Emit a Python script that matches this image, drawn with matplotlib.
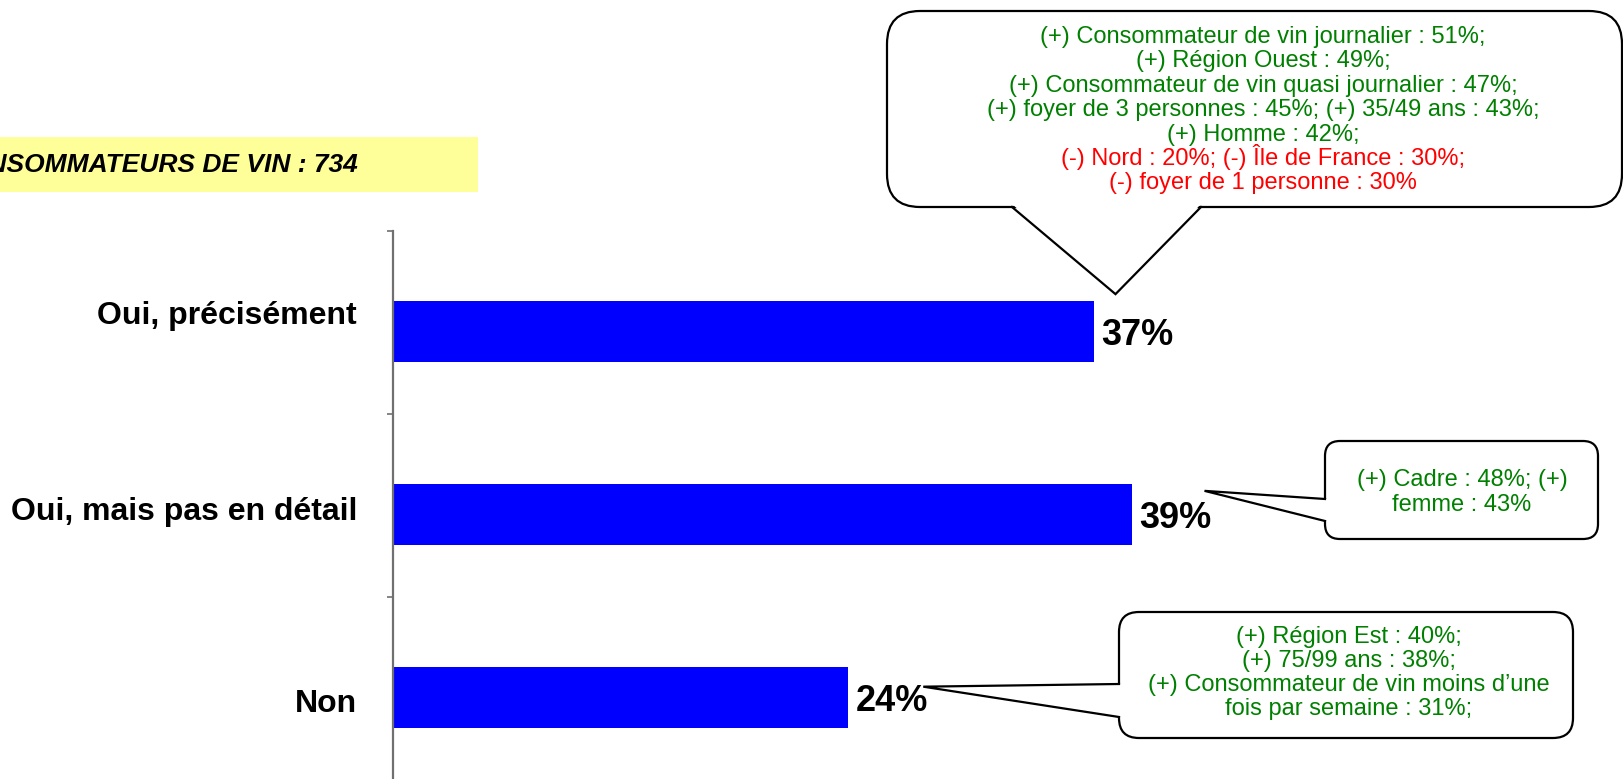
import matplotlib
matplotlib.use("Agg")
import matplotlib.pyplot as plt
from matplotlib.patches import FancyBboxPatch, Polygon, Rectangle
from matplotlib.lines import Line2D

plt.rcParams['font.family'] = ['Liberation Sans', 'DejaVu Sans']

# ---------------- data ----------------
categories = ["Oui, précisément", "Oui, mais pas en détail", "Non"]
values = [37, 39, 24]
value_labels = ["37%", "39%", "24%"]
title_text = "CONSOMMATEURS DE VIN : 734"

callout1_green = [
    "(+) Consommateur de vin journalier : 51%;",
    "(+) Région Ouest : 49%;",
    "(+) Consommateur de vin quasi journalier : 47%;",
    "(+) foyer de 3 personnes : 45%; (+) 35/49 ans : 43%;",
    "(+) Homme : 42%;",
]
callout1_red = [
    "(-) Nord : 20%; (-) Île de France : 30%;",
    "(-) foyer de 1 personne : 30%",
]
callout2_green = ["(+) Cadre : 48%; (+)", "femme : 43%"]
callout3_green = [
    "(+) Région Est : 40%;",
    "(+) 75/99 ans : 38%;",
    "(+) Consommateur de vin moins d\u2019une",
    "fois par semaine : 31%;",
]

# ---------------- figure ----------------
W, H = 1624, 779
fig = plt.figure(figsize=(W / 100, H / 100), dpi=100)

ax_left, ax_top = 393, 231
ax = fig.add_axes([ax_left / W, 0, (W - ax_left) / W, (H - ax_top) / H])
band = 183.0
ax.set_ylim(-0.55 + (H - ax_top) / band, -0.55)
ax.set_xlim(0, 65)

ypos = list(range(len(categories)))
ax.barh(ypos, values, height=0.333, color="#0000FF", zorder=2)

for s in ["top", "right", "bottom"]:
    ax.spines[s].set_visible(False)
ax.spines["left"].set_color("#707070")
ax.spines["left"].set_linewidth(1.6)
ax.set_xticks([])
ax.set_yticks([-0.55, 0.45, 1.45])
ax.set_yticklabels([])
ax.tick_params(axis="y", direction="out", length=4, width=1.2, color="#707070")
ax.patch.set_visible(False)

label_offsets = [-0.088, -0.013, 0.032]
ytr = ax.get_yaxis_transform()
for i, (cat, off) in enumerate(zip(categories, label_offsets)):
    ax.text(-36 / (W - ax_left), i + off, cat, transform=ytr, ha="right",
            va="center", fontsize=23, fontweight="bold", color="black")

for i, (v, lab) in enumerate(zip(values, value_labels)):
    ax.text(v + 0.42, i + 0.02, lab, ha="left", va="center", fontsize=26,
            fontweight="bold", color="black")

# ---------------- overlay in pixel coords ----------------
ov = fig.add_axes([0, 0, 1, 1])
ov.set_xlim(0, W)
ov.set_ylim(H, 0)
ov.axis("off")
ov.patch.set_visible(False)

def to_px(x, y):
    disp = ax.transData.transform((x, y))
    return ov.transData.inverted().transform(disp)

# title band
ov.add_patch(Rectangle((0, 137), 478, 55, facecolor="#FFFF99", edgecolor="none"))
ov.text(358, 165, title_text, ha="right", va="center", fontsize=19,
        fontweight="bold", fontstyle="italic", color="black")

GREEN = "#008000"
RED = "#FF0000"
LW = 1.6

def callout(x0, y0, x1, y1, r, base_a, base_b, tip, side):
    box = FancyBboxPatch((x0, y0), x1 - x0, y1 - y0,
                         boxstyle=f"round,pad=0,rounding_size={r}",
                         facecolor="white", edgecolor="black", lw=LW, zorder=3)
    ov.add_patch(box)
    if side == "bottom":
        fa = (base_a, y1 - 3)
        fb = (base_b, y1 - 3)
        la = (base_a, y1)
        lb = (base_b, y1)
    else:  # left
        fa = (x0 + 3, base_a)
        fb = (x0 + 3, base_b)
        la = (x0, base_a)
        lb = (x0, base_b)
    ov.add_patch(Polygon([fa, tuple(tip), fb], closed=True, facecolor="white",
                         edgecolor="none", zorder=4))
    ov.add_line(Line2D([la[0], tip[0], lb[0]], [la[1], tip[1], lb[1]],
                       color="black", lw=LW, zorder=5, solid_joinstyle="miter"))

def lines_text(cx, base0, step, lines, colors, fs=17):
    for k, (t, c) in enumerate(zip(lines, colors)):
        ov.text(cx, base0 + k * step, t, ha="center", va="baseline",
                fontsize=fs, color=c, zorder=6)

# callout 1 (top bar)
tip1 = to_px(values[0] + 1.15, -0.205)
callout(887, 11, 1622, 207, 33, 1012, 1201, tip1, "bottom")
lines_text(1263, 43, 24.4, callout1_green + callout1_red,
           [GREEN] * len(callout1_green) + [RED] * len(callout1_red))

# callout 2 (middle bar)
tip2 = to_px(values[1] + 3.85, 0.87)
callout(1325, 441, 1598, 539, 15, 499, 521, tip2, "left")
lines_text(1462, 485.5, 25, callout2_green, [GREEN] * len(callout2_green))

# callout 3 (bottom bar)
tip3 = to_px(values[2] + 4.0, 1.94)
callout(1119, 612, 1573, 738, 20, 684, 717, tip3, "left")
lines_text(1349, 642.5, 24.2, callout3_green, [GREEN] * len(callout3_green))

fig.savefig("out.png", dpi=100)
